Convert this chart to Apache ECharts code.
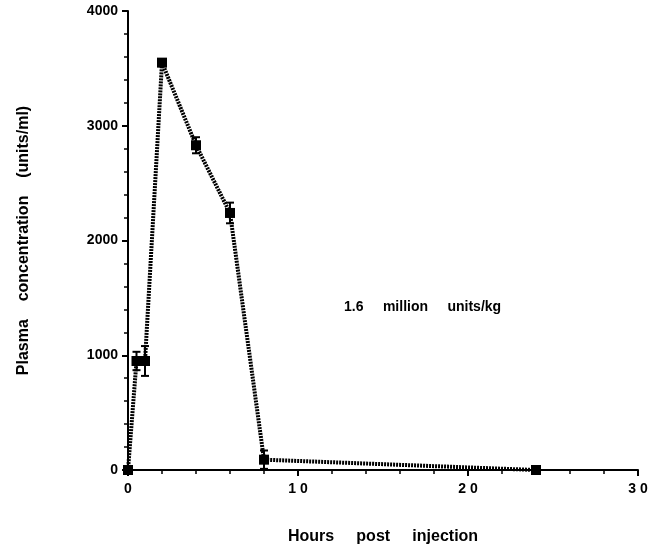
<!DOCTYPE html>
<html>
<head>
<meta charset="utf-8">
<script src="https://cdn.jsdelivr.net/npm/echarts@6/dist/echarts.min.js"></script>
<style>html,body{margin:0;padding:0;background:#fff}#c{width:665px;height:550px}</style>
</head>
<body>
<div id="c"></div>
<script>
var hours = [0, 0.5, 1, 2, 4, 6, 8, 24];
var conc = [0, 950, 950, 3550, 2830, 2240, 90, 0];
var errs = [0, 80, 130, 30, 70, 90, 80, 10];
var xTicks = [0, 10, 20, 30];
var yTicks = [0, 1000, 2000, 3000, 4000];

var FONT = '"Liberation Sans", Arial, sans-serif';
var lineData = hours.map(function (h, i) { return [h, conc[i]]; });
var errData = hours.map(function (h, i) { return [h, conc[i] - errs[i], conc[i] + errs[i]]; });

var chart = echarts.init(document.getElementById('c'));
chart.setOption({
  animation: false,
  backgroundColor: '#fff',
  grid: { left: 128, right: 27, top: 11, bottom: 78 },
  xAxis: {
    type: 'value', min: xTicks[0], max: xTicks[xTicks.length - 1], interval: 10,
    name: 'Hours     post     injection', nameLocation: 'middle', nameGap: 59,
    nameTextStyle: { fontFamily: FONT, fontWeight: 'bold', fontSize: 16, color: '#000' },
    axisLine: { show: true, lineStyle: { color: '#000', width: 2 } },
    axisTick: { show: true, length: 6, lineStyle: { color: '#000', width: 2 } },
    minorTick: { show: true, splitNumber: 5, length: 4, lineStyle: { color: '#000', width: 1.5 } },
    axisLabel: { fontFamily: FONT, fontWeight: 'bold', fontSize: 14, color: '#000', margin: 12,
      formatter: function (v) { return String(v).split('').join(' '); } },
    splitLine: { show: false }
  },
  yAxis: {
    type: 'value', min: yTicks[0], max: yTicks[yTicks.length - 1], interval: 1000,
    name: 'Plasma    concentration    (units/ml)', nameLocation: 'middle', nameGap: 96,
    nameTextStyle: { fontFamily: FONT, fontWeight: 'bold', fontSize: 16, color: '#000' },
    axisLine: { show: true, lineStyle: { color: '#000', width: 2 } },
    axisTick: { show: true, length: 6, lineStyle: { color: '#000', width: 2 } },
    minorTick: { show: true, splitNumber: 5, length: 4, lineStyle: { color: '#000', width: 1.5 } },
    axisLabel: { fontFamily: FONT, fontWeight: 'bold', fontSize: 14, color: '#000', margin: 10,
      formatter: function (v) { return String(v); } },
    splitLine: { show: false }
  },
  graphic: [{
    type: 'text', left: 344, top: 300,
    style: { text: '1.6     million     units/kg', fontFamily: FONT, fontWeight: 'bold', fontSize: 14, fill: '#000' }
  }],
  series: [{
    type: 'line', data: lineData, symbol: 'rect', symbolSize: 10,
    itemStyle: { color: '#000' },
    lineStyle: { color: '#000', width: 4, type: [2, 1] }
  }, {
    type: 'custom', data: errData, z: 3,
    renderItem: function (params, api) {
      var x = api.value(0);
      var lo = api.coord([x, api.value(1)]);
      var hi = api.coord([x, api.value(2)]);
      var w = 4;
      var st = { stroke: '#000', lineWidth: 2 };
      return { type: 'group', children: [
        { type: 'line', shape: { x1: lo[0], y1: lo[1], x2: hi[0], y2: hi[1] }, style: st },
        { type: 'line', shape: { x1: lo[0] - w, y1: lo[1], x2: lo[0] + w, y2: lo[1] }, style: st },
        { type: 'line', shape: { x1: hi[0] - w, y1: hi[1], x2: hi[0] + w, y2: hi[1] }, style: st }
      ]};
    }
  }]
});
</script>
</body>
</html>
